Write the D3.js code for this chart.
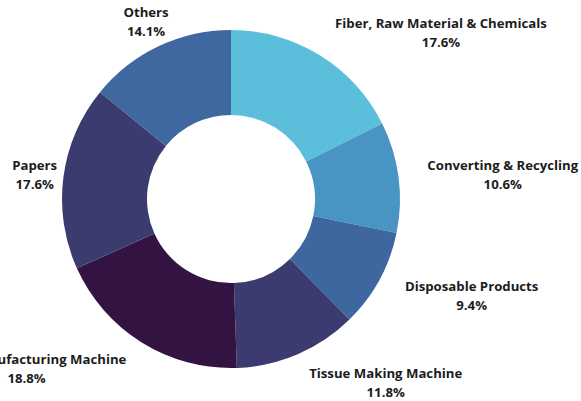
<!DOCTYPE html>
<html><head><meta charset="utf-8">
<script src="https://cdn.jsdelivr.net/npm/d3@7"></script>
<style>body{margin:0;background:#fff;} text{font-family:"Open Sans",sans-serif;font-weight:700;}</style>
</head><body>
<svg id="c" width="581" height="401"></svg>
<script>
const categories = ["Fiber, Raw Material & Chemicals","Converting & Recycling","Disposable Products","Tissue Making Machine","Paper Manufacturing Machine","Papers","Others"];
const values = [17.6, 10.6, 9.4, 11.8, 18.8, 17.6, 14.1];
const colors = ["#5BBFDB","#4894C2","#3E67A0","#3C3B70","#331342","#3C3B70","#3F67A0"];

const W = 581, H = 401, cx = 231, cy = 199, R = 169, r = 84, RL = 198;
const svg = d3.select("#c");
const g = svg.append("g").attr("transform", `translate(${cx},${cy})`);
const data = categories.map((c,i)=>({name:c, value:values[i], color:colors[i]}));
const pie = d3.pie().value(d=>d.value).sort(null);
const arc = d3.arc().innerRadius(r).outerRadius(R);
const arcs = pie(data);
g.selectAll("path.slice").data(arcs).join("path").attr("class","slice")
  .attr("d", arc).attr("fill", d=>d.data.color);

const fs = 13.2, lh = 19;
arcs.forEach(a=>{
  const ang = (a.startAngle + a.endAngle)/2;
  const lx = RL*Math.sin(ang), ly = -RL*Math.cos(ang);
  const lg = g.append("g");
  const t1 = lg.append("text").attr("text-anchor","middle").attr("font-size",fs).attr("fill","#1c1c1c")
    .attr("y", -lh/2 + 6.5).text(a.data.name);
  const t2 = lg.append("text").attr("text-anchor","middle").attr("font-size",fs).attr("fill","#1c1c1c")
    .attr("y", lh/2 + 6.5).text(a.data.value.toFixed(1) + "%");
  const w = Math.max(t1.node().getComputedTextLength(), t2.node().getComputedTextLength());
  const top = ly - lh, bot = ly + lh;
  let overlap = false;
  for (let xx = lx - w/2; xx <= lx + w/2; xx += 2) {
    for (let yy = top; yy <= bot; yy += 2) {
      if (Math.hypot(xx, yy) < R + 2) { overlap = true; break; }
    }
    if (overlap) break;
  }
  let shift = 0;
  if (overlap) shift = Math.sin(ang) > 0 ? w/2 : -w/2;
  lg.attr("transform", `translate(${lx + shift},${ly})`);
});
</script>
</body></html>
